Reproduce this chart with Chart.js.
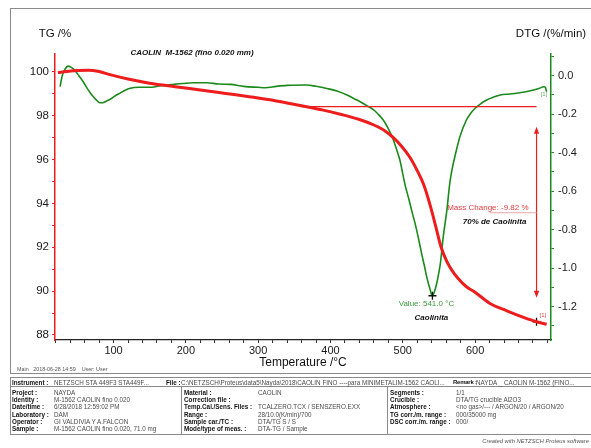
<!DOCTYPE html>
<html>
<head>
<meta charset="utf-8">
<script src="https://cdn.jsdelivr.net/npm/chart.js@4/dist/chart.umd.min.js"></script>
<style>
  html, body { margin: 0; padding: 0; background: #fff; }
  body { width: 591px; height: 448px; position: relative; overflow: hidden;
         font-family: "Liberation Sans", Arial, sans-serif; }
  #plot { position: absolute; left: 0; top: 0; }
  .frame { position: absolute; left: 10px; top: 8px; width: 600px; height: 366px;
           border: 1px solid #8a8a8a; box-sizing: border-box; }
  .hl { position: absolute; height: 0; border-top: 1px solid #8a8a8a; }
  .vl { position: absolute; width: 0; border-left: 1px solid #8a8a8a; }
  .t { position: absolute; white-space: nowrap; font-size: 6.3px; line-height: 7px; color: #4a4a4a; }
  .lb { font-weight: bold; color: #111; }
  .tight { letter-spacing: -0.25px; font-size: 6px; }
  .main { position: absolute; left: 17px; top: 366px; font-size: 5.4px; color: #555; white-space: nowrap; }
  .credit { position: absolute; right: 2px; top: 438px; font-size: 5.8px; font-style: italic; color: #555; white-space: nowrap; }
</style>
</head>
<body>
<canvas id="plot" width="591" height="372"></canvas>
<div class="frame"></div>
<div class="main">Main&nbsp;&nbsp;&nbsp;2018-06-28 14:59&nbsp;&nbsp;&nbsp;&nbsp;User: User</div>
<div id="table"></div>
<div class="credit">Created with NETZSCH Proteus software</div>
<script>
// TG curve: temperature (°C) and mass (%)
const tgTemp = [23, 35, 50, 65, 80, 95, 120, 150, 185, 220, 255, 290, 325, 358, 390, 415, 440, 460, 475, 487,
                498, 510, 520, 529, 538, 546, 553, 561, 568, 576, 588, 600, 620, 644, 667, 685, 699];
const tgMass = [99.97, 100.02, 100.07, 100.08, 100.02, 99.88, 99.68, 99.49, 99.33, 99.18, 99.02, 98.86, 98.68, 98.47,
                98.26, 98.06, 97.83, 97.58, 97.32, 97.0, 96.62, 96.1, 95.5, 94.85, 93.9, 92.9, 92.0, 91.35, 90.95,
                90.6, 90.2, 89.95, 89.45, 89.1, 88.8, 88.6, 88.49];

// DTG curve: temperature (°C) and rate (%/min)
const dtgTemp = [26, 29, 33, 37, 41, 46, 52, 58, 64, 70, 76, 81, 85, 90, 95, 102, 109, 116, 123, 135, 150, 165, 180,
                 196, 210, 229, 245, 262, 280, 300, 310, 325, 340, 367, 380, 395, 410, 423, 432, 441, 450, 459, 466,
                 473, 480, 487, 492, 496, 500, 504, 508, 513, 517, 522, 526, 530, 533, 537, 540, 541, 543, 547, 550,
                 552, 556, 561, 565, 568, 572, 579, 588, 594, 600, 608, 616, 625, 635, 648, 662, 672, 681, 689, 695,
                 697, 699];
const dtgRate = [-0.057, 0.0, 0.035, 0.05, 0.045, 0.03, 0.0, -0.031, -0.068, -0.10, -0.125, -0.14, -0.14, -0.132,
                 -0.123, -0.105, -0.09, -0.075, -0.065, -0.06, -0.06, -0.052, -0.046, -0.04, -0.036, -0.036, -0.043,
                 -0.045, -0.055, -0.06, -0.062, -0.055, -0.05, -0.048, -0.055, -0.066, -0.08, -0.10, -0.118, -0.135,
                 -0.155, -0.175, -0.2, -0.23, -0.275, -0.334, -0.39, -0.438, -0.51, -0.58, -0.635, -0.71, -0.767,
                 -0.85, -0.923, -0.99, -1.044, -1.10, -1.139, -1.143, -1.13, -1.078, -1.02, -0.975, -0.836, -0.698,
                 -0.559, -0.49, -0.421, -0.317, -0.23, -0.195, -0.169, -0.145, -0.126, -0.112, -0.10, -0.095, -0.088,
                 -0.082, -0.074, -0.065, -0.057, -0.06, -0.083];

// Mass-change evaluation: reference level, end point and arrow span
const stepStartTemp = 360;
const stepLevel = 98.42;
const stepEndTemp = 685;
const stepEndMass = 88.60;
const massChange = -9.82;
const arrowSpan = [97.5, 89.7];

// DTG peak
const peakTemp = 541.0;
const peakRate = -1.143;

// Tick labels
const xLabels = [100, 200, 300, 400, 500, 600];
const tgLabels = [88, 90, 92, 94, 96, 98, 100];
const dtgLabels = [-1.2, -1.0, -0.8, -0.6, -0.4, -0.2, 0.0];

// Header/table text
const infoHeader = [
  ['Instrument :', 'NETZSCH STA 449F3 STA449F...'],
  ['File :', 'C:\\NETZSCH\\Proteus\\data5\\Nayda\\2018\\CAOLIN FINO ----para MINIMETALIM-1562 CAOLI...'],
  ['Remark :', 'NAYDA _ CAOLIN M-1562 (FINO...']
];
const infoCol1 = [
  ['Project :', 'NAYDA'], ['Identity :', 'M-1562 CAOLIN fino 0.020'], ['Date/time :', '6/28/2018 12:59:02 PM'],
  ['Laboratory :', 'DAM'], ['Operator :', 'GI VALDIVIA Y A.FALCON'], ['Sample :', 'M-1562 CAOLIN fino 0.020, 71.0 mg']
];
const infoCol2 = [
  ['Material :', 'CAOLIN'], ['Correction file :', ''], ['Temp.Cal./Sens. Files :', 'TCALZERO.TCX / SENSZERO.EXX'],
  ['Range :', '28/10.0(K/min)/700'], ['Sample car./TC :', 'DTA/TG S / S'], ['Mode/type of meas. :', 'DTA-TG / Sample']
];
const infoCol3 = [
  ['Segments :', '1/1'], ['Crucible :', 'DTA/TG crucible Al2O3'], ['Atmosphere :', '<no gas>/--- / ARGON/20 / ARGON/20'],
  ['TG corr./m. range :', '000/35000 mg'], ['DSC corr./m. range :', '000/'], ['', '']
];

const RED = '#ee1c1c';
const GREEN = '#1b8a1b';
const FONT = '"Liberation Sans", Arial, sans-serif';

function pts(xs, ys) { return xs.map((v, i) => ({ x: v, y: ys[i] })); }
function range(a, b, s) { const r = []; for (let v = a; v <= b + 1e-9; v += s) r.push(Math.round(v * 100) / 100); return r; }

// ---- info table below the plot ----
(function buildTable() {
  const host = document.getElementById('table');
  const add = (cls, style, text) => {
    const d = document.createElement('div');
    d.className = cls; d.setAttribute('style', style); if (text !== undefined) d.textContent = text;
    host.appendChild(d); return d;
  };
  add('hl', 'left:10px;top:377px;width:590px;');
  add('hl', 'left:10px;top:386px;width:590px;');
  add('hl', 'left:10px;top:434px;width:590px;');
  add('vl', 'left:10px;top:377px;height:57px;');
  add('vl', 'left:181px;top:386px;height:48px;');
  add('vl', 'left:387px;top:386px;height:48px;');
  const headX = [[12, 54, ''], [166, 181, ''], [453, 476, ' tight']];
  infoHeader.forEach((h, i) => {
    add('t lb' + headX[i][2], `left:${headX[i][0]}px;top:378.5px;`, h[0]);
    add('t', `left:${headX[i][1]}px;top:378.5px;`, h[1]);
  });
  const cols = [[infoCol1, 12, 54], [infoCol2, 184, 258], [infoCol3, 390, 456]];
  cols.forEach(([rows, lx, vx]) => {
    rows.forEach((r, i) => {
      const top = 388.8 + i * 7.33;
      add('t lb', `left:${lx}px;top:${top}px;`, r[0]);
      add('t', `left:${vx}px;top:${top}px;`, r[1]);
    });
  });
})();

// ---- annotations drawn on the plot ----
const notes = {
  id: 'notes',
  afterDatasetsDraw(chart) {
    const { ctx, chartArea: a, scales: { x, tg, dtg } } = chart;
    ctx.save();
    // double-headed arrow for the mass change
    const ax = x.getPixelForValue(stepEndTemp);
    const y1 = tg.getPixelForValue(arrowSpan[0]);
    const y2 = tg.getPixelForValue(arrowSpan[1]);
    ctx.strokeStyle = RED; ctx.fillStyle = RED; ctx.lineWidth = 1.2;
    ctx.beginPath(); ctx.moveTo(ax, y1 + 6); ctx.lineTo(ax, y2 - 6); ctx.stroke();
    ctx.beginPath(); ctx.moveTo(ax, y1); ctx.lineTo(ax - 2.6, y1 + 7); ctx.lineTo(ax + 2.6, y1 + 7); ctx.closePath(); ctx.fill();
    ctx.beginPath(); ctx.moveTo(ax, y2); ctx.lineTo(ax - 2.6, y2 - 7); ctx.lineTo(ax + 2.6, y2 - 7); ctx.closePath(); ctx.fill();
    // leader from the label to the arrow
    const ym = tg.getPixelForValue((arrowSpan[0] + arrowSpan[1]) / 2);
    ctx.strokeStyle = '#f2a6a6'; ctx.lineWidth = 1;
    ctx.beginPath(); ctx.moveTo(ax - 47, ym + 0.5); ctx.lineTo(ax, ym + 0.5); ctx.stroke();

    ctx.textBaseline = 'middle';
    ctx.font = `8px ${FONT}`; ctx.fillStyle = '#e23b3b'; ctx.textAlign = 'right';
    ctx.fillText(`Mass Change: ${massChange.toFixed(2)} %`, ax - 8, ym - 4);
    ctx.font = `italic bold 8px ${FONT}`; ctx.fillStyle = '#111'; ctx.textAlign = 'center';
    ctx.fillText('70% de Caolinita', ax - 42, ym + 10);

    const px = x.getPixelForValue(peakTemp), py = dtg.getPixelForValue(peakRate);
    ctx.font = `8px ${FONT}`; ctx.fillStyle = '#3c9a3c';
    ctx.fillText(`Value: ${peakTemp.toFixed(1)} °C`, px - 6, py + 8.5);
    ctx.font = `italic bold 8px ${FONT}`; ctx.fillStyle = '#111';
    ctx.fillText('Caolinita', px - 1, py + 22.5);

    // segment markers
    ctx.font = `6px ${FONT}`; ctx.textAlign = 'left';
    ctx.fillStyle = '#e04848';
    ctx.fillText('[1]', ax + 3, tg.getPixelForValue(stepEndMass) - 6.5);
    ctx.fillStyle = '#62a862';
    ctx.fillText('[1]', x.getPixelForValue(dtgTemp[dtgTemp.length - 1]) - 6, dtg.getPixelForValue(dtgRate[dtgRate.length - 1]) + 3);

    // titles
    ctx.fillStyle = '#111';
    ctx.font = `italic bold 8px ${FONT}`; ctx.textAlign = 'center';
    ctx.fillText('CAOLIN  M-1562 (fino 0.020 mm)', a.left + 137, a.top - 1);
    ctx.font = `11.5px ${FONT}`;
    ctx.fillText('TG /%', a.left, a.top - 20);
    ctx.fillText('DTG /(%/min)', a.right, a.top - 20);
    ctx.restore();
  }
};

const tickGrid = (color) => ({ drawOnChartArea: false, drawTicks: true, tickLength: 3, color, lineWidth: 1 });

new Chart(document.getElementById('plot'), {
  type: 'line',
  data: {
    datasets: [
      { label: 'TG', data: pts(tgTemp, tgMass), yAxisID: 'tg', borderColor: RED, borderWidth: 3,
        pointRadius: 0, cubicInterpolationMode: 'monotone' },
      { label: 'Mass step', data: [{ x: stepStartTemp, y: stepLevel }, { x: stepEndTemp, y: stepLevel }],
        yAxisID: 'tg', borderColor: RED, borderWidth: 1.3, pointRadius: 0 },
      { label: 'TG end', type: 'scatter', data: [{ x: stepEndTemp, y: stepEndMass }], yAxisID: 'tg',
        pointStyle: 'cross', pointRadius: 4, borderColor: '#111', borderWidth: 1.3 },
      { label: 'DTG peak', type: 'scatter', data: [{ x: peakTemp, y: peakRate }], yAxisID: 'dtg',
        pointStyle: 'cross', pointRadius: 4, borderColor: '#111', borderWidth: 1.3 },
      { label: 'DTG', data: pts(dtgTemp, dtgRate), yAxisID: 'dtg', borderColor: GREEN, borderWidth: 1.6,
        pointRadius: 0, cubicInterpolationMode: 'monotone' }
    ]
  },
  options: {
    responsive: false, animation: false, devicePixelRatio: 1,
    layout: { padding: { top: 54, left: 0, right: 0, bottom: 0 } },
    plugins: { legend: { display: false }, tooltip: { enabled: false } },
    scales: {
      x: {
        type: 'linear', position: 'bottom', min: 19, max: 705,
        afterBuildTicks: s => { s.ticks = range(20, 700, 20).map(v => ({ value: v })); },
        afterFit: s => { s.height = 32; },
        ticks: { autoSkip: false, maxRotation: 0, padding: 1, color: '#1a1a1a', font: { family: FONT, size: 11 },
                 callback: v => xLabels.includes(v) ? String(v) : '' },
        grid: tickGrid('#333'),
        border: { color: '#222', width: 1.2 },
        title: { display: true, text: 'Temperature /°C', color: '#111', font: { family: FONT, size: 12 },
                 padding: { top: 0, bottom: 2 } }
      },
      tg: {
        type: 'linear', position: 'left', min: 87.77, max: 100.82,
        afterBuildTicks: s => { s.ticks = range(88, 100, 1).map(v => ({ value: v })); },
        afterFit: s => { s.width = 55; },
        ticks: { autoSkip: false, padding: 3, color: '#1a1a1a', font: { family: FONT, size: 11.5 },
                 callback: v => tgLabels.includes(v) ? String(v) : '' },
        grid: tickGrid(RED),
        border: { color: RED, width: 1.5 }
      },
      dtg: {
        type: 'linear', position: 'right', min: -1.373, max: 0.113,
        afterBuildTicks: s => { s.ticks = range(-1.3, 0.1, 0.1).map(v => ({ value: v })); },
        afterFit: s => { s.width = 40; },
        ticks: { autoSkip: false, padding: 4, color: '#1a1a1a', font: { family: FONT, size: 11 },
                 callback: v => dtgLabels.some(l => Math.abs(l - v) < 1e-6) ? v.toFixed(1) : '' },
        grid: tickGrid(GREEN),
        border: { color: GREEN, width: 1.5 }
      }
    }
  },
  plugins: [notes]
});
</script>
</body>
</html>
